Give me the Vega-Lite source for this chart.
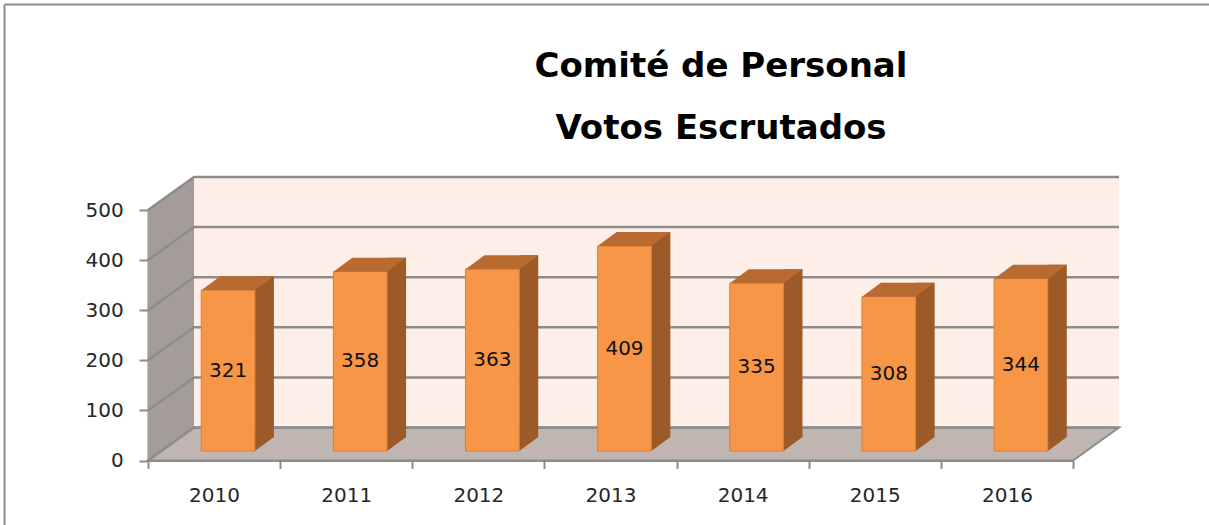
{
  "$schema": "https://vega.github.io/schema/vega-lite/v6.json",
  "width": 1205,
  "height": 521,
  "autosize": "none",
  "padding": {"left": 4, "top": 4, "right": 0, "bottom": 0},
  "background": "white",
  "view": {"stroke": "transparent", "strokeWidth": 0, "strokeOpacity": 0, "fill": null},
  "config": {
    "view": {"stroke": "transparent", "strokeWidth": 0, "strokeOpacity": 0},
    "font": "DejaVu Sans"
  },
  "title": {
    "text": ["Comité de Personal", "Votos Escrutados"],
    "font": "DejaVu Sans",
    "fontSize": 34,
    "fontWeight": "bold",
    "color": "#000000",
    "lineHeight": 62,
    "anchor": "middle",
    "frame": "group",
    "dx": 114.5,
    "offset": -142
  },
  "datasets": {
    "votes": [
      {"year": "2010", "votos": 321},
      {"year": "2011", "votos": 358},
      {"year": "2012", "votos": 363},
      {"year": "2013", "votos": 409},
      {"year": "2014", "votos": 335},
      {"year": "2015", "votos": 308},
      {"year": "2016", "votos": 344}
    ],
    "grid": [
      {"level": 0}, {"level": 100}, {"level": 200}, {"level": 300}, {"level": 400}, {"level": 500}
    ],
    "one": [{"item": "frame"}]
  },
  "layer": [
    {
      "data": {"name": "one"},
      "mark": {"type": "point", "opacity": 0},
      "encoding": {
        "x": {
          "datum": 0, "type": "quantitative", "title": null,
          "scale": {"domain": [0, 1], "nice": false},
          "axis": {"orient": "top", "offset": 0, "domain": true, "domainColor": "#8c8c8c", "domainWidth": 2, "ticks": false, "labels": false, "grid": false, "title": null}
        },
        "y": {
          "datum": 0, "type": "quantitative", "title": null,
          "scale": {"domain": [0, 1], "nice": false},
          "axis": {"orient": "left", "offset": 0, "domain": true, "domainColor": "#8c8c8c", "domainWidth": 2, "ticks": false, "labels": false, "grid": false, "title": null}
        }
      }
    },
    {
      "layer": [
        {
          "data": {"name": "one"},
          "mark": {"type": "point", "shape": "M-66.07,0L-66.07,-250.5L-20.07,-283.5L-20.07,-33Z", "size": 4, "filled": true, "fill": "#a39c98", "strokeWidth": 0, "opacity": 1},
          "encoding": {
            "x": {
              "datum": "2010", "type": "ordinal", "title": null,
              "scale": {"domain": ["2010", "2011", "2012", "2013", "2014", "2015", "2016"], "range": [144, 1069], "paddingInner": 0, "paddingOuter": 0},
              "axis": {
                "orient": "bottom", "offset": -64.5, "tickBand": "extent", "grid": false,
                "domainColor": "#8c8c8c", "domainWidth": 2, "tickColor": "#8c8c8c", "tickWidth": 2, "tickSize": 8,
                "labelFont": "DejaVu Sans", "labelFontSize": 20, "labelColor": "#262626", "labelPadding": 17, "labelAngle": 0, "title": null
              }
            },
            "y": {
              "datum": 0, "type": "quantitative", "title": null,
              "scale": {"domain": [0, 500], "range": [456.5, 206], "nice": false, "zero": true},
              "axis": {
                "orient": "left", "values": [0, 100, 200, 300, 400, 500], "offset": -144, "grid": false,
                "domainColor": "#8c8c8c", "domainWidth": 2, "tickColor": "#8c8c8c", "tickWidth": 2, "tickSize": 9,
                "labelFont": "DejaVu Sans", "labelFontSize": 20, "labelColor": "#262626", "labelPadding": 15.7, "title": null
              }
            }
          }
        },
        {
          "data": {"name": "one"},
          "mark": {"type": "point", "shape": "M-20.07,-33L-20.07,-283.5L904.93,-283.5L904.93,-33Z", "size": 4, "filled": true, "fill": "#fdeee7", "strokeWidth": 0, "opacity": 1},
          "encoding": {
            "x": {"datum": "2010", "type": "ordinal", "title": null},
            "y": {"datum": 0, "type": "quantitative", "title": null}
          }
        },
        {
          "data": {"name": "one"},
          "mark": {"type": "point", "shape": "M-66.07,0L858.93,0L904.93,-33L-20.07,-33Z", "size": 4, "filled": true, "fill": "#c0b6b1", "stroke": "#8c8c8c", "strokeWidth": 2, "opacity": 1},
          "encoding": {
            "x": {"datum": "2010", "type": "ordinal", "title": null},
            "y": {"datum": 0, "type": "quantitative", "title": null}
          }
        },
        {
          "data": {"name": "grid"},
          "mark": {"type": "point", "shape": "M-66.07,0L-20.07,-33L904.93,-33", "size": 4, "filled": false, "fill": null, "stroke": "#8c8c8c", "strokeWidth": 2.5, "opacity": 1},
          "encoding": {
            "x": {"datum": "2010", "type": "ordinal", "title": null},
            "y": {"field": "level", "type": "quantitative", "title": null}
          }
        },
        {
          "data": {"name": "votes"},
          "mark": {"type": "bar", "width": 19, "xOffset": 50.35, "yOffset": -23.5, "y2Offset": -23.5, "fill": "#9b5a28", "strokeWidth": 0},
          "encoding": {
            "x": {"field": "year", "type": "ordinal", "title": null},
            "y": {"field": "votos", "type": "quantitative", "title": null}
          }
        },
        {
          "data": {"name": "votes"},
          "mark": {"type": "point", "shape": "M40.85,-23.5L40.85,-9.5L59.85,-23.5Z", "size": 4, "filled": true, "fill": "#9b5a28", "strokeWidth": 0, "opacity": 1},
          "encoding": {
            "x": {"field": "year", "type": "ordinal", "title": null},
            "y": {"datum": 0, "type": "quantitative", "title": null}
          }
        },
        {
          "data": {"name": "votes"},
          "mark": {"type": "bar", "width": 53.7, "xOffset": 14, "yOffset": -9.5, "y2Offset": -9.5, "fill": "#f79646", "stroke": "#de7f36", "strokeWidth": 1},
          "encoding": {
            "x": {"field": "year", "type": "ordinal", "title": null},
            "y": {"field": "votos", "type": "quantitative", "title": null}
          }
        },
        {
          "data": {"name": "votes"},
          "mark": {"type": "point", "shape": "M-12.85,-9.5L40.85,-9.5L59.85,-23.5L6.15,-23.5Z", "size": 4, "filled": true, "fill": "#b86a30", "strokeWidth": 0, "opacity": 1},
          "encoding": {
            "x": {"field": "year", "type": "ordinal", "title": null},
            "y": {"field": "votos", "type": "quantitative", "title": null}
          }
        }
      ]
    },
    {
      "data": {"name": "votes"},
      "mark": {"type": "text", "xOffset": 14, "yOffset": -9.5, "font": "DejaVu Sans", "fontSize": 20, "color": "#111111", "align": "center", "baseline": "middle"},
      "encoding": {
        "x": {
          "field": "year", "type": "ordinal", "title": null,
          "scale": {"domain": ["2010", "2011", "2012", "2013", "2014", "2015", "2016"], "range": [144, 1069], "paddingInner": 0, "paddingOuter": 0},
          "axis": null
        },
        "y": {"field": "votos", "type": "quantitative", "title": null, "scale": {"domain": [0, 1000], "range": [456.5, 206], "nice": false}, "axis": null},
        "text": {"field": "votos", "type": "quantitative"}
      }
    }
  ],
  "resolve": {"scale": {"x": "independent", "y": "independent"}}
}
